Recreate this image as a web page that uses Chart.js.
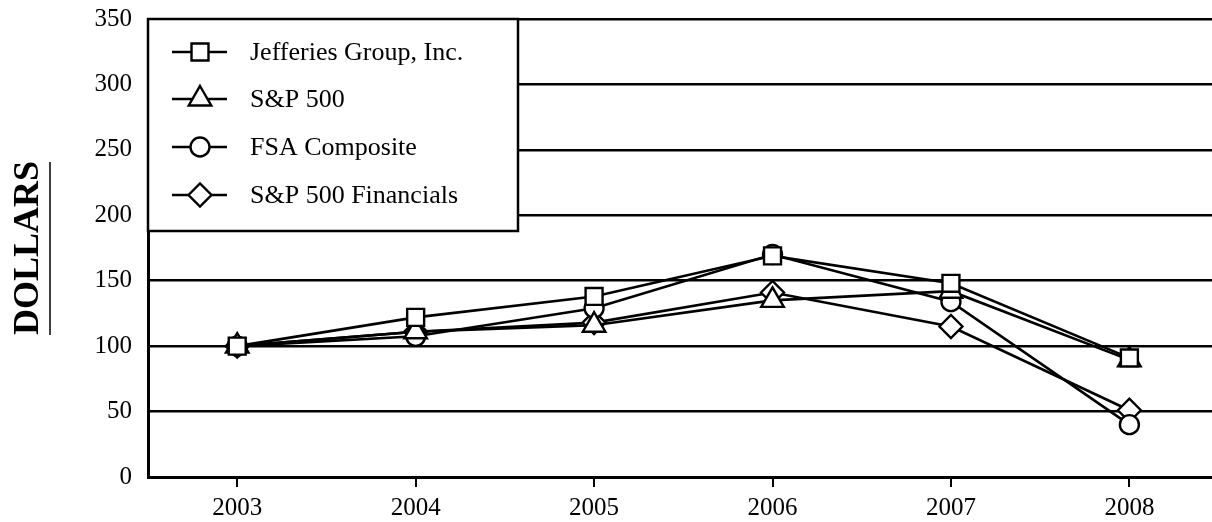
<!DOCTYPE html>
<html>
<head>
<meta charset="utf-8">
<script src="https://cdn.jsdelivr.net/npm/chart.js@4/dist/chart.umd.min.js"></script>
<style>
  html, body { margin: 0; padding: 0; background: #fff; overflow: hidden; }
  #perfChart { display: block; }
</style>
</head>
<body>
<canvas id="perfChart" width="1234" height="522"></canvas>
<script>
// données
const years = ['2003', '2004', '2005', '2006', '2007', '2008'];
const jefferies = [100, 122, 138, 169, 148, 91];
const sp500 = [100, 111, 116, 135, 142, 89.5];
const fsaComposite = [100, 107.5, 129, 170, 134, 40];
const spFinancials = [100, 111, 118, 141, 115, 51];
const seriesNames = ['Jefferies Group, Inc.', 'S&P 500', 'FSA Composite', 'S&P 500 Financials'];
const yTicks = [0, 50, 100, 150, 200, 250, 300, 350];
const yTitle = 'DOLLARS';

const FONT = '"Liberation Serif", "Times New Roman", serif';

function makeSet(label, data, style, radius) {
    return {
        label, data,
        borderColor: '#000', borderWidth: 2.6,
        pointStyle: style, pointRadius: radius, pointHoverRadius: radius,
        pointBackgroundColor: '#fff', pointBorderColor: '#000', pointBorderWidth: 2.4,
        tension: 0, fill: false
    };
}

// légende encadrée dans le coin + titre de l'axe Y souligné
const decorPlugin = {
    id: 'decor',
    afterDraw(chart) {
        const ctx = chart.ctx;
        const area = chart.chartArea;
        ctx.save();
        // titre Y
        ctx.translate(29, 248);
        ctx.rotate(-Math.PI / 2);
        ctx.font = 'bold 36px ' + FONT;
        ctx.fillStyle = '#000';
        ctx.textAlign = 'center';
        ctx.textBaseline = 'middle';
        ctx.fillText(yTitle, 0, 0);
        ctx.restore();
        ctx.save();
        ctx.strokeStyle = '#000';
        ctx.lineWidth = 1.5;
        ctx.beginPath();
        ctx.moveTo(50, 162);
        ctx.lineTo(50, 335);
        ctx.stroke();
        ctx.restore();

        // légende
        const bx = area.left, by = area.top, bw = 370, bh = 212;
        ctx.save();
        ctx.fillStyle = '#fff';
        ctx.fillRect(bx, by, bw, bh);
        ctx.strokeStyle = '#000';
        ctx.lineWidth = 2.5;
        ctx.strokeRect(bx, by, bw, bh);
        const rows = [52, 99, 147, 195];
        chart.data.datasets.forEach((ds, i) => {
            const y = rows[i];
            ctx.strokeStyle = '#000';
            ctx.lineWidth = 2.6;
            ctx.beginPath();
            ctx.moveTo(172, y);
            ctx.lineTo(227, y);
            ctx.stroke();
            ctx.fillStyle = '#fff';
            ctx.lineWidth = 2.4;
            Chart.helpers.drawPoint(ctx, { pointStyle: ds.pointStyle, radius: ds.pointRadius, rotation: 0, borderWidth: 2.4 }, 200, y);
            ctx.fillStyle = '#000';
            ctx.font = '26px ' + FONT;
            ctx.textAlign = 'left';
            ctx.textBaseline = 'middle';
            ctx.fillText(ds.label, 250, y + 1);
        });
        ctx.restore();
    }
};

const ctx = document.getElementById('perfChart').getContext('2d');
new Chart(ctx, {
    type: 'line',
    data: {
        labels: years,
        datasets: [
            makeSet(seriesNames[0], jefferies, 'rect', 12),
            makeSet(seriesNames[1], sp500, 'triangle', 13),
            makeSet(seriesNames[2], fsaComposite, 'circle', 9.5),
            makeSet(seriesNames[3], spFinancials, 'rectRot', 11.5)
        ]
    },
    options: {
        responsive: false,
        maintainAspectRatio: false,
        animation: false,
        layout: { padding: { left: 0, right: 3, top: 19, bottom: 0 } },
        plugins: { legend: { display: false }, tooltip: { enabled: false } },
        scales: {
            x: {
                offset: true,
                grid: { drawOnChartArea: false, drawTicks: true, tickLength: 10, offset: false, color: '#000', lineWidth: 2 },
                border: { display: true, color: '#000', width: 3 },
                ticks: { color: '#000', font: { family: FONT, size: 25 }, padding: 6, maxRotation: 0 },
                afterFit(scale) {
                    scale.height = 45;
                    scale.paddingLeft = 0;
                    scale.paddingRight = 0;
                }
            },
            y: {
                min: 0, max: 350,
                afterBuildTicks(scale) { scale.ticks = yTicks.map(v => ({ value: v })); },
                grid: { drawTicks: false, color: '#000', lineWidth: 2.5 },
                border: { display: true, color: '#000', width: 3 },
                ticks: { color: '#000', font: { family: FONT, size: 25 }, padding: 16 },
                afterFit(scale) {
                    scale.width = 148;
                    scale.paddingTop = 0;
                    scale.paddingBottom = 0;
                }
            }
        }
    },
    plugins: [decorPlugin]
});
</script>
</body>
</html>
